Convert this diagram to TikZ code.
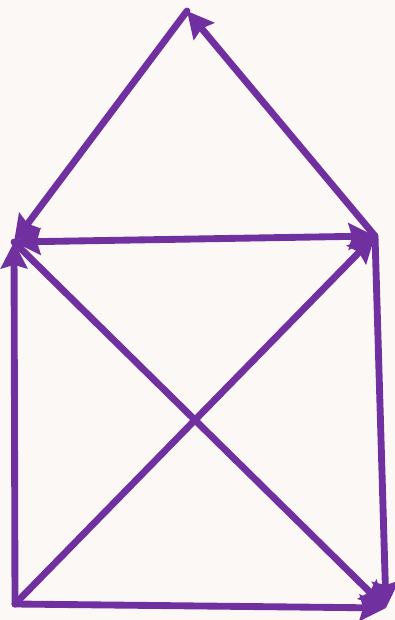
\documentclass[tikz,border=0pt]{standalone}
\usepackage{tikz}
\usetikzlibrary{arrows.meta}
\definecolor{edgepurple}{RGB}{112,48,160}
\definecolor{paper}{RGB}{252,248,245}

\begin{document}
\begin{tikzpicture}[
    x=0.02cm, y=0.02cm,
    edge/.style={draw=edgepurple, line width=3.9pt, line cap=round},
    fwd/.style={edge, -{Stealth[length=15pt, width=15pt, inset=2pt]}},
    both/.style={edge, {Stealth[length=15pt, width=15pt, inset=2pt]}-{Stealth[length=15pt, width=15pt, inset=2pt]}},
]
\fill[paper] (0,0) rectangle (395,620);
\useasboundingbox (0,0) rectangle (395,620);
% corners of the house
\coordinate (top) at (187,609);
\coordinate (ul) at (14,378);
\coordinate (ur) at (375,384);
\coordinate (ll) at (15,16);
\coordinate (lr) at (386,12);
% edges
\draw[fwd] (ur) -- (top);
\draw[fwd] (top) -- (ul);
\draw[both] (ul) -- (ur);
\draw[fwd] (ll) -- (ul);
\draw[fwd] (ll) -- (ur);
\draw[fwd] (ul) -- (lr);
\draw[fwd] (ur) -- (lr);
\draw[fwd] (ll) -- (lr);
\end{tikzpicture}
\end{document}
